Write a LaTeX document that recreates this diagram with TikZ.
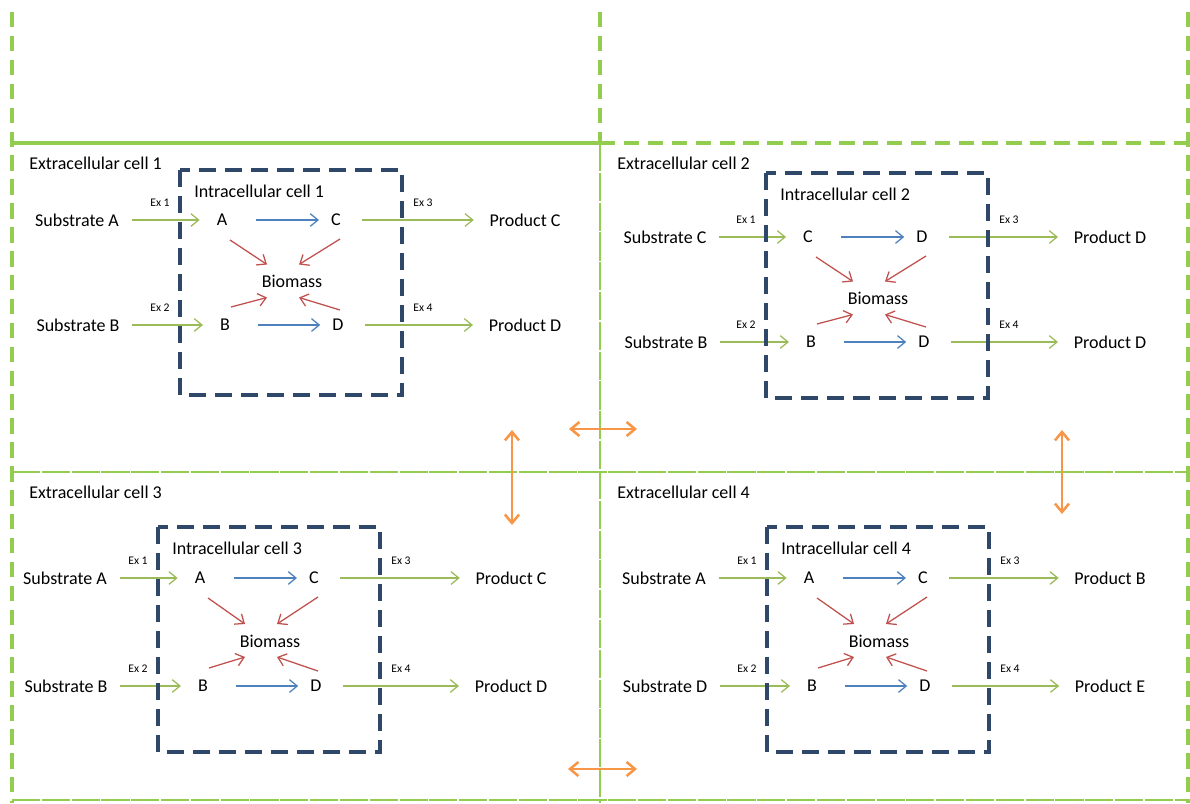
\documentclass[tikz,border=0pt]{standalone}
\usepackage{fontspec}
\setmainfont{Carlito}
\usetikzlibrary{arrows.meta}

\definecolor{gridgreen}{RGB}{146,205,80}
\definecolor{fluxgreen}{RGB}{155,187,89}
\definecolor{fluxblue}{RGB}{79,129,189}
\definecolor{fluxred}{RGB}{192,80,77}
\definecolor{exchorange}{RGB}{247,150,70}
\definecolor{boxblue}{RGB}{47,72,105}

\begin{document}
\begin{tikzpicture}[x=0.025cm,y=-0.025cm,
  txt/.style={inner sep=0pt,font=\fontsize{12.8}{15}\selectfont},
  cellname/.style={txt,anchor=west},
  exlab/.style={inner sep=0pt,font=\fontsize{8.3}{10}\selectfont},
  intrabox/.style={draw=boxblue,line width=2.4pt,dash pattern=on 12pt off 6.5pt},
  gridsolid/.style={draw=gridgreen,line width=2.6pt},
  griddash/.style={draw=gridgreen,line width=2.2pt,dash pattern=on 11pt off 6pt},
  gridlong/.style={draw=gridgreen,line width=1.8pt,dash pattern=on 20pt off 1.2pt},
  arr/.style={line width=0.9pt,-{Straight Barb[length=5.5pt,width=9pt]}},
  uptake/.style={arr,draw=fluxgreen,shorten <=9pt,shorten >=12pt},
  secrete/.style={arr,draw=fluxgreen,shorten <=15pt,shorten >=11pt},
  conv/.style={arr,draw=fluxblue,shorten <=20pt,shorten >=8.5pt},
  growth/.style={arr,draw=fluxred},
  exchange/.style={draw=exchorange,line width=1.8pt,
    {Straight Barb[length=6pt,width=10pt]}-{Straight Barb[length=6pt,width=10pt]}}
]
  \useasboundingbox (0,0) rectangle (1190,803);

  % compartment grid
  \draw[griddash] (12,12) -- (12,803);
  \draw[griddash] (1188,12) -- (1188,803);
  \draw[griddash] (600,12) -- (600,143);
  \draw[gridlong] (600,143) -- (600,803);
  \draw[gridsolid] (12,143) -- (600,143);
  \draw[griddash] (600,143) -- (1190,143);
  \draw[gridlong] (12,472) -- (1190,472);
  \draw[gridlong] (12,800) -- (1190,800);

  % exchange between neighbouring cells
  \coordinate (v1a) at (512,430);
  \coordinate (v1b) at (512,525);
  \coordinate (v2a) at (1062,430);
  \coordinate (v2b) at (1062,514);
  \coordinate (h1a) at (569,429);
  \coordinate (h1b) at (637,429);
  \coordinate (h2a) at (568,769);
  \coordinate (h2b) at (637,769);
  \draw[exchange] (v1a) -- (v1b);
  \draw[exchange] (v2a) -- (v2b);
  \draw[exchange] (h1a) -- (h1b);
  \draw[exchange] (h2a) -- (h2b);

  % one extracellular cell with its intracellular cell
  \foreach \n/\cx/\cy/\bx/\by/\ra/\rb/\sx/\px/\sa/\sb/\pa/\pb/\la/\lc/\lb/\ld in {
    1/12/143/180/170/220/325/77/525/A/B/C/D/A/C/B/D,
    2/600/143/766/173/237/342/665/1110/C/B/D/D/C/D/B/D,
    3/12/472/158/527/578/686/65/511/A/B/C/D/A/C/B/D,
    4/600/472/767/527/578/686/664/1110/A/D/B/E/A/C/B/D}{
    \node[cellname] (ext\n) at (\cx+17,\cy+20) {Extracellular cell \n};
    \node[cellname] (int\n) at (\bx+14,\by+21) {Intracellular cell \n};
    \node[txt] (sa\n) at (\sx,\ra) {Substrate \sa};
    \node[txt] (sb\n) at (\sx+1,\rb) {Substrate \sb};
    \node[txt] (ma\n) at (\bx+42,\ra) {\la};
    \node[txt] (mc\n) at (\bx+156,\ra) {\lc};
    \node[txt] (mb\n) at (\bx+45,\rb) {\lb};
    \node[txt] (md\n) at (\bx+158,\rb) {\ld};
    \node[txt] (bio\n) at (\bx+112,{(\ra+\rb)/2+9}) {Biomass};
    \node[txt] (pa\n) at (\px,\ra) {Product \pa};
    \node[txt] (pb\n) at (\px,\rb) {Product \pb};
    \node[exlab] (exa\n) at (\bx-20,\ra-17) {Ex 1};
    \node[exlab] (exb\n) at (\bx-20,\rb-17) {Ex 2};
    \node[exlab] (exc\n) at (\bx+243,\ra-17) {Ex 3};
    \node[exlab] (exd\n) at (\bx+243,\rb-17) {Ex 4};
    \draw[uptake] (sa\n) -- (ma\n);
    \draw[uptake] (sb\n) -- (mb\n);
    \draw[conv] (ma\n) -- (mc\n);
    \draw[conv] (mb\n) -- (md\n);
    \draw[secrete] (mc\n) -- (pa\n);
    \draw[secrete] (md\n) -- (pb\n);
    \draw[growth] ([shift={(8,20)}]ma\n.center) -- ([shift={(-25,-17)}]bio\n.center);
    \draw[growth] ([shift={(4,19)}]mc\n.center) -- ([shift={(7,-17)}]bio\n.center);
    \draw[growth] ([shift={(6,-18)}]mb\n.center) -- ([shift={(-25,16)}]bio\n.center);
    \draw[growth] ([shift={(2,-15)}]md\n.center) -- ([shift={(7,16)}]bio\n.center);
    \draw[intrabox] (\bx,\by) rectangle ++(222,225);
  }
\end{tikzpicture}
\end{document}
